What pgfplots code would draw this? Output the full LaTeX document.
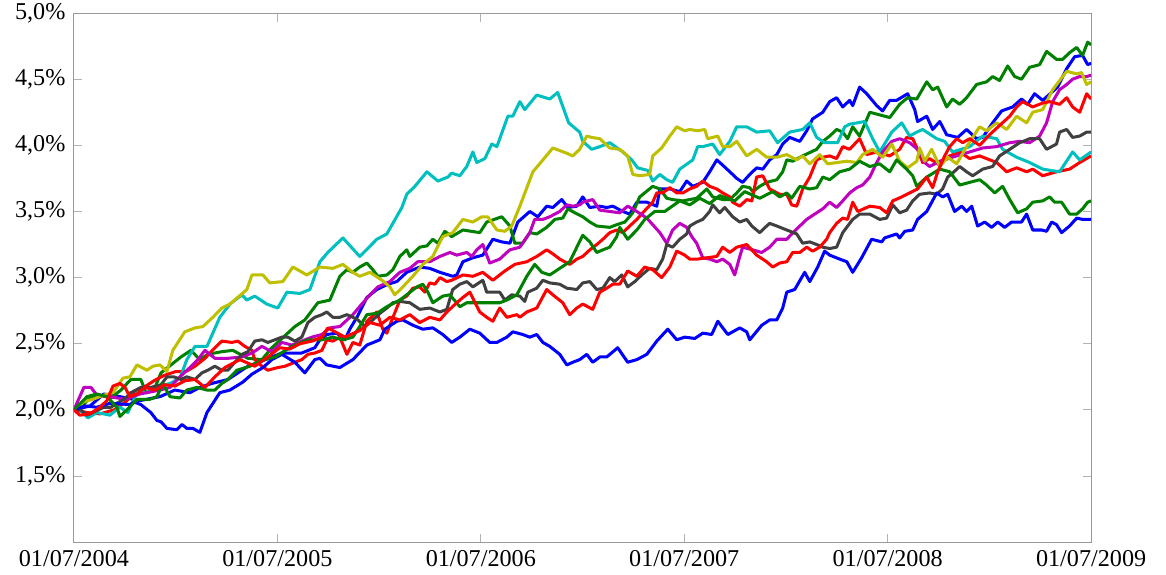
\documentclass[border=0pt]{standalone}
\usepackage{pgfplots}
\pgfplotsset{compat=1.18}
\usepackage{fontspec}
\setmainfont{Liberation Serif}
\definecolor{cB}{RGB}{0,0,255}
\definecolor{cG}{RGB}{0,128,0}
\definecolor{cR}{RGB}{255,0,0}
\definecolor{cC}{RGB}{0,191,191}
\definecolor{cM}{RGB}{191,0,191}
\definecolor{cY}{RGB}{191,191,0}
\definecolor{cK}{RGB}{64,64,64}

\begin{document}
\begin{tikzpicture}
\begin{axis}[
    name=ax,
    scale only axis,
    width=421pt, height=219pt,
    xmin=0, xmax=5, ymin=1.0, ymax=5.0,
    xtick={0,1,2,3,4,5},
    xticklabels={01/07/2004,01/07/2005,01/07/2006,01/07/2007,01/07/2008,01/07/2009},
    ytick={1.5,2,2.5,3,3.5,4,4.5,5},
    yticklabel={\pgfmathprintnumber[fixed,fixed zerofill,precision=1,use comma]{\tick}\%},
    /pgf/number format/assume math mode=true,
    axis line style={gray!80},
    tick style={gray!60, line width=0.4pt},
    tick align=inside, tick pos=both,
    major tick length=3.5pt,
    ticklabel style={font=\fontsize{10}{12}\selectfont},
    every axis plot/.append style={line width=1.25pt, no markers, line join=round},
]
% blue 1
\addplot[cB] coordinates {
(0,2.00) (0.079,2.03) (0.147,2.12) (0.226,2.10) (0.324,2.07) (0.423,2.10) (0.496,2.15) (0.570,2.13) (0.619,2.17) (0.678,2.20) (0.757,2.23) (0.855,2.33) (0.924,2.37) (1.022,2.43) (1.120,2.43) (1.184,2.47) (1.209,2.53) (1.243,2.57) (1.292,2.58) (1.332,2.53) (1.356,2.61) (1.391,2.70) (1.440,2.85) (1.489,2.91) (1.543,2.95) (1.587,2.97) (1.636,3.04) (1.700,3.08) (1.749,3.07) (1.799,3.04) (1.862,3.01) (1.882,3.02) (1.912,3.12) (1.961,3.15) (2.010,3.17) (2.059,3.29) (2.103,3.27) (2.143,3.26) (2.182,3.42) (2.241,3.50) (2.280,3.46) (2.324,3.54) (2.354,3.53) (2.398,3.59) (2.428,3.53) (2.472,3.54) (2.501,3.61) (2.536,3.53) (2.585,3.54) (2.619,3.53) (2.649,3.54) (2.698,3.50) (2.732,3.48) (2.767,3.57) (2.816,3.57) (2.865,3.54) (2.880,3.67) (2.929,3.67) (2.978,3.65) (3.012,3.73) (3.042,3.69) (3.091,3.72) (3.125,3.80) (3.160,3.89) (3.189,3.85) (3.224,3.80) (3.258,3.75) (3.287,3.72) (3.322,3.78) (3.356,3.83) (3.386,3.82) (3.420,3.89) (3.455,3.93) (3.484,4.01) (3.518,4.06) (3.568,4.03) (3.602,4.11) (3.631,4.20) (3.681,4.25) (3.715,4.33) (3.749,4.36) (3.779,4.29) (3.813,4.34) (3.828,4.30) (3.862,4.44) (3.897,4.39) (3.946,4.30) (3.975,4.26) (4.010,4.34) (4.044,4.34) (4.098,4.39) (4.133,4.27) (4.147,4.18) (4.192,4.22) (4.221,4.12) (4.256,4.18) (4.290,4.08) (4.344,4.06) (4.388,4.12) (4.437,4.05) (4.467,4.06) (4.516,4.17) (4.560,4.26) (4.614,4.29) (4.658,4.35) (4.688,4.31) (4.722,4.39) (4.762,4.34) (4.806,4.40) (4.835,4.44) (4.880,4.58) (4.919,4.67) (4.958,4.68) (4.983,4.61) (5.0,4.62)
};
% green 1
\addplot[cG] coordinates {
(0,2.00) (0.034,2.02) (0.084,2.10) (0.133,2.11) (0.182,2.09) (0.231,2.15) (0.280,2.23) (0.329,2.23) (0.354,2.13) (0.393,2.15) (0.428,2.28) (0.477,2.34) (0.526,2.40) (0.575,2.45) (0.619,2.38) (0.658,2.42) (0.727,2.44) (0.781,2.45) (0.855,2.39) (0.924,2.38) (0.973,2.47) (1.086,2.63) (1.135,2.68) (1.199,2.81) (1.258,2.83) (1.307,3.01) (1.342,3.06) (1.371,3.04) (1.405,3.08) (1.440,3.11) (1.469,3.06) (1.494,3.01) (1.538,3.02) (1.568,3.06) (1.602,3.16) (1.636,3.21) (1.651,3.16) (1.700,3.23) (1.735,3.24) (1.764,3.29) (1.789,3.26) (1.823,3.35) (1.857,3.31) (1.912,3.36) (1.995,3.34) (2.029,3.42) (2.103,3.46) (2.143,3.39) (2.167,3.26) (2.206,3.26) (2.241,3.34) (2.275,3.33) (2.324,3.38) (2.364,3.44) (2.403,3.45) (2.428,3.52) (2.462,3.49) (2.501,3.46) (2.536,3.42) (2.570,3.39) (2.634,3.38) (2.668,3.40) (2.708,3.42) (2.747,3.49) (2.781,3.61) (2.845,3.69) (2.880,3.67) (2.914,3.60) (2.943,3.59) (2.993,3.58) (3.061,3.60) (3.111,3.67) (3.140,3.61) (3.189,3.59) (3.224,3.59) (3.258,3.64) (3.287,3.69) (3.322,3.68) (3.337,3.65) (3.371,3.69) (3.405,3.72) (3.455,3.74) (3.484,3.80) (3.504,3.89) (3.533,3.88) (3.582,3.92) (3.651,3.97) (3.681,4.03) (3.715,4.07) (3.749,4.12) (3.779,4.10) (3.803,4.05) (3.828,4.14) (3.862,4.07) (3.912,4.25) (3.961,4.23) (4.010,4.21) (4.059,4.31) (4.098,4.36) (4.143,4.35) (4.192,4.48) (4.221,4.42) (4.246,4.44) (4.290,4.29) (4.319,4.35) (4.354,4.31) (4.388,4.36) (4.437,4.46) (4.486,4.48) (4.516,4.52) (4.550,4.49) (4.590,4.60) (4.624,4.52) (4.658,4.50) (4.698,4.59) (4.747,4.61) (4.781,4.71) (4.830,4.65) (4.860,4.65) (4.894,4.70) (4.929,4.74) (4.958,4.68) (4.983,4.78) (5.0,4.76)
};
% red 1
\addplot[cR] coordinates {
(0,2.00) (0.064,1.98) (0.128,1.97) (0.197,2.00) (0.246,2.05) (0.295,2.12) (0.344,2.17) (0.393,2.22) (0.442,2.26) (0.501,2.29) (0.550,2.29) (0.595,2.33) (0.644,2.39) (0.693,2.47) (0.727,2.52) (0.776,2.51) (0.806,2.52) (0.840,2.48) (0.875,2.45) (0.889,2.38) (0.924,2.33) (0.953,2.30) (1.002,2.32) (1.037,2.33) (1.086,2.36) (1.120,2.38) (1.150,2.42) (1.184,2.43) (1.219,2.45) (1.243,2.53) (1.273,2.52) (1.307,2.55) (1.342,2.42) (1.371,2.51) (1.405,2.49) (1.440,2.67) (1.489,2.74) (1.518,2.61) (1.538,2.58) (1.563,2.68) (1.602,2.83) (1.636,2.86) (1.666,2.92) (1.700,2.93) (1.725,2.89) (1.749,2.96) (1.774,2.95) (1.799,3.00) (1.833,2.97) (1.857,2.98) (1.912,3.02) (1.961,3.01) (2.010,3.04) (2.059,2.98) (2.118,3.05) (2.167,3.10) (2.226,3.12) (2.275,3.16) (2.324,3.21) (2.354,3.18) (2.388,3.14) (2.437,3.10) (2.472,3.14) (2.501,3.16) (2.536,3.21) (2.570,3.25) (2.600,3.29) (2.634,3.34) (2.668,3.36) (2.698,3.34) (2.732,3.39) (2.767,3.44) (2.796,3.49) (2.845,3.57) (2.865,3.64) (2.894,3.64) (2.929,3.68) (2.963,3.64) (2.993,3.64) (3.027,3.67) (3.061,3.69) (3.091,3.73) (3.125,3.69) (3.160,3.67) (3.189,3.64) (3.224,3.61) (3.238,3.57) (3.273,3.54) (3.307,3.59) (3.332,3.58) (3.356,3.76) (3.386,3.77) (3.420,3.67) (3.469,3.63) (3.504,3.63) (3.528,3.55) (3.553,3.54) (3.582,3.67) (3.617,3.76) (3.651,3.89) (3.681,3.91) (3.715,3.92) (3.749,3.90) (3.779,3.99) (3.813,3.97) (3.862,4.05) (3.897,3.93) (3.946,3.95) (4.010,3.92) (4.059,3.97) (4.093,4.06) (4.123,4.05) (4.147,3.97) (4.172,3.87) (4.206,3.90) (4.256,3.85) (4.305,3.92) (4.354,3.95) (4.403,3.90) (4.452,3.92) (4.536,3.87) (4.585,3.80) (4.634,3.83) (4.683,3.80) (4.713,3.82) (4.762,3.77) (4.830,3.80) (4.894,3.82) (4.944,3.87) (5.0,3.92)
};
% cyan
\addplot[cC] coordinates {
(0,2.00) (0.015,2.02) (0.069,1.94) (0.113,1.98) (0.177,1.96) (0.226,2.02) (0.265,1.98) (0.310,2.13) (0.359,2.13) (0.408,2.17) (0.472,2.20) (0.521,2.24) (0.555,2.38) (0.595,2.48) (0.654,2.48) (0.717,2.70) (0.767,2.80) (0.826,2.87) (0.850,2.83) (0.889,2.86) (0.948,2.80) (1.002,2.77) (1.047,2.89) (1.111,2.88) (1.160,2.91) (1.209,3.12) (1.248,3.19) (1.322,3.30) (1.405,3.16) (1.489,3.29) (1.538,3.33) (1.612,3.53) (1.636,3.63) (1.676,3.69) (1.735,3.80) (1.789,3.73) (1.838,3.76) (1.857,3.79) (1.897,3.77) (1.931,3.84) (1.961,3.95) (1.980,3.87) (2.020,3.90) (2.054,4.01) (2.079,3.99) (2.133,4.22) (2.157,4.22) (2.192,4.33) (2.216,4.27) (2.275,4.38) (2.339,4.35) (2.378,4.40) (2.432,4.17) (2.486,4.10) (2.501,4.03) (2.545,3.97) (2.585,3.99) (2.634,4.02) (2.698,3.95) (2.742,3.89) (2.771,3.83) (2.821,3.81) (2.845,3.73) (2.880,3.78) (2.914,3.74) (2.943,3.72) (2.978,3.82) (3.042,3.89) (3.066,3.99) (3.091,3.99) (3.140,4.01) (3.174,3.93) (3.224,4.03) (3.258,4.14) (3.307,4.14) (3.356,4.10) (3.420,4.11) (3.459,4.02) (3.518,4.10) (3.582,4.12) (3.617,4.17) (3.651,4.06) (3.690,4.02) (3.754,4.02) (3.789,4.14) (3.813,4.16) (3.887,4.18) (3.926,4.05) (3.961,3.95) (4.020,4.10) (4.069,4.17) (4.108,4.07) (4.143,4.10) (4.172,4.12) (4.241,4.05) (4.280,4.03) (4.319,3.95) (4.403,3.99) (4.467,4.07) (4.536,4.05) (4.565,3.97) (4.634,3.91) (4.698,3.87) (4.762,3.82) (4.845,3.80) (4.909,3.95) (4.944,3.89) (5.0,3.95)
};
% magenta
\addplot[cM] coordinates {
(0,2.00) (0.049,2.17) (0.084,2.17) (0.113,2.11) (0.177,2.10) (0.251,2.08) (0.324,2.12) (0.423,2.15) (0.472,2.17) (0.521,2.25) (0.570,2.32) (0.609,2.38) (0.644,2.45) (0.693,2.39) (0.757,2.39) (0.826,2.40) (0.875,2.43) (0.924,2.48) (0.973,2.44) (1.022,2.51) (1.071,2.49) (1.120,2.52) (1.170,2.55) (1.219,2.57) (1.258,2.62) (1.307,2.63) (1.371,2.72) (1.415,2.80) (1.455,2.87) (1.494,2.93) (1.553,2.97) (1.602,3.04) (1.651,3.07) (1.690,3.12) (1.749,3.12) (1.799,3.16) (1.848,3.19) (1.882,3.17) (1.931,3.19) (1.956,3.16) (1.980,3.21) (2.010,3.25) (2.029,3.17) (2.044,3.11) (2.093,3.14) (2.128,3.19) (2.143,3.21) (2.192,3.23) (2.241,3.34) (2.265,3.44) (2.305,3.44) (2.339,3.46) (2.388,3.50) (2.423,3.55) (2.452,3.54) (2.486,3.55) (2.501,3.57) (2.550,3.59) (2.585,3.51) (2.634,3.50) (2.683,3.49) (2.722,3.54) (2.767,3.50) (2.816,3.45) (2.880,3.34) (2.914,3.26) (2.943,3.36) (2.978,3.41) (3.012,3.38) (3.037,3.31) (3.061,3.26) (3.091,3.15) (3.125,3.14) (3.160,3.12) (3.189,3.14) (3.224,3.10) (3.248,3.02) (3.273,3.16) (3.287,3.23) (3.337,3.21) (3.381,3.19) (3.420,3.23) (3.455,3.29) (3.504,3.29) (3.528,3.33) (3.568,3.39) (3.602,3.44) (3.641,3.48) (3.681,3.52) (3.715,3.57) (3.749,3.53) (3.779,3.58) (3.813,3.64) (3.848,3.68) (3.877,3.70) (3.912,3.76) (3.946,3.87) (3.975,3.95) (4.020,4.03) (4.059,4.05) (4.108,4.02) (4.147,3.97) (4.182,3.87) (4.206,3.84) (4.256,3.88) (4.339,3.92) (4.403,3.95) (4.467,3.98) (4.536,3.99) (4.600,4.02) (4.649,4.03) (4.698,4.02) (4.747,4.07) (4.781,4.17) (4.811,4.33) (4.845,4.42) (4.880,4.46) (4.909,4.50) (4.944,4.52) (4.978,4.52) (5.0,4.53)
};
% olive
\addplot[cY] coordinates {
(0,2.00) (0.015,2.00) (0.044,2.06) (0.093,2.08) (0.143,2.11) (0.192,2.13) (0.241,2.24) (0.275,2.25) (0.310,2.34) (0.359,2.30) (0.388,2.33) (0.423,2.34) (0.457,2.29) (0.486,2.45) (0.545,2.59) (0.595,2.62) (0.634,2.63) (0.683,2.70) (0.727,2.77) (0.767,2.80) (0.850,2.91) (0.875,3.02) (0.929,3.02) (0.963,2.96) (1.027,2.97) (1.076,3.08) (1.145,3.02) (1.209,3.08) (1.273,3.07) (1.322,3.10) (1.371,3.04) (1.405,3.01) (1.455,3.04) (1.514,2.98) (1.553,2.93) (1.577,2.87) (1.617,2.93) (1.666,3.01) (1.715,3.10) (1.764,3.16) (1.813,3.31) (1.862,3.34) (1.912,3.44) (1.961,3.42) (2.005,3.46) (2.034,3.46) (2.079,3.36) (2.118,3.35) (2.152,3.39) (2.192,3.54) (2.256,3.80) (2.300,3.88) (2.354,3.98) (2.423,3.94) (2.452,3.92) (2.486,3.97) (2.521,4.07) (2.545,4.06) (2.585,4.05) (2.634,3.98) (2.683,3.97) (2.722,3.92) (2.747,3.78) (2.781,3.77) (2.830,3.78) (2.845,3.92) (2.889,3.98) (2.929,4.07) (2.963,4.14) (3.002,4.11) (3.027,4.12) (3.066,4.11) (3.101,4.12) (3.115,4.05) (3.165,4.07) (3.189,3.99) (3.224,3.99) (3.258,4.03) (3.307,3.92) (3.356,3.97) (3.405,3.91) (3.455,3.91) (3.504,3.93) (3.553,3.89) (3.582,3.92) (3.617,3.86) (3.666,3.93) (3.705,3.86) (3.799,3.88) (3.848,3.87) (3.877,3.93) (3.926,3.97) (3.975,3.91) (4.020,4.01) (4.059,3.88) (4.098,3.83) (4.143,3.88) (4.157,3.98) (4.182,3.88) (4.216,3.97) (4.256,3.84) (4.295,3.91) (4.339,3.86) (4.388,3.99) (4.452,4.14) (4.486,4.11) (4.536,4.17) (4.585,4.12) (4.634,4.22) (4.683,4.17) (4.713,4.25) (4.762,4.27) (4.811,4.42) (4.880,4.56) (4.929,4.54) (4.953,4.55) (4.978,4.46) (5.0,4.48)
};
% dark grey
\addplot[cK] coordinates {
(0,2.00) (0.034,2.00) (0.064,1.96) (0.147,2.02) (0.182,2.02) (0.211,2.05) (0.246,2.08) (0.280,2.13) (0.329,2.17) (0.378,2.17) (0.428,2.19) (0.457,2.25) (0.491,2.25) (0.526,2.23) (0.555,2.25) (0.595,2.23) (0.629,2.28) (0.658,2.30) (0.693,2.33) (0.727,2.30) (0.757,2.30) (0.791,2.36) (0.826,2.42) (0.855,2.44) (0.889,2.52) (0.924,2.53) (0.953,2.51) (0.988,2.53) (1.022,2.55) (1.052,2.55) (1.086,2.52) (1.120,2.55) (1.150,2.66) (1.184,2.70) (1.219,2.72) (1.243,2.74) (1.273,2.70) (1.307,2.70) (1.342,2.72) (1.371,2.70) (1.396,2.68) (1.430,2.63) (1.469,2.68) (1.504,2.73) (1.538,2.77) (1.568,2.81) (1.602,2.82) (1.651,2.81) (1.700,2.76) (1.749,2.77) (1.799,2.74) (1.833,2.76) (1.862,2.91) (1.897,2.95) (1.931,2.97) (1.961,2.93) (2.010,2.98) (2.029,2.89) (2.093,2.89) (2.118,2.83) (2.152,2.87) (2.192,2.86) (2.216,2.82) (2.231,2.89) (2.275,2.92) (2.305,2.98) (2.339,2.96) (2.388,2.95) (2.423,2.92) (2.472,2.91) (2.501,2.96) (2.536,2.97) (2.570,2.91) (2.600,2.92) (2.634,3.00) (2.658,2.97) (2.693,3.02) (2.722,2.93) (2.757,2.97) (2.791,3.02) (2.830,3.07) (2.865,3.06) (2.894,3.14) (2.914,3.25) (2.943,3.23) (2.978,3.29) (3.012,3.33) (3.027,3.39) (3.061,3.42) (3.091,3.44) (3.125,3.50) (3.140,3.55) (3.174,3.49) (3.199,3.53) (3.238,3.46) (3.273,3.42) (3.307,3.44) (3.332,3.39) (3.371,3.34) (3.405,3.39) (3.420,3.41) (3.455,3.39) (3.504,3.36) (3.553,3.33) (3.582,3.26) (3.617,3.27) (3.651,3.25) (3.681,3.23) (3.715,3.22) (3.749,3.23) (3.779,3.34) (3.828,3.44) (3.862,3.48) (3.912,3.48) (3.961,3.44) (3.995,3.45) (4.025,3.55) (4.059,3.49) (4.093,3.51) (4.123,3.58) (4.157,3.63) (4.206,3.64) (4.241,3.63) (4.270,3.67) (4.295,3.76) (4.319,3.79) (4.354,3.84) (4.388,3.80) (4.418,3.77) (4.467,3.82) (4.516,3.84) (4.550,3.92) (4.600,3.97) (4.649,4.02) (4.698,4.05) (4.747,4.05) (4.781,3.97) (4.830,4.01) (4.845,4.10) (4.880,4.12) (4.909,4.06) (4.944,4.07) (4.978,4.10) (5.0,4.10)
};
% blue 2
\addplot[cB] coordinates {
(0,2.00) (0.054,2.03) (0.113,2.02) (0.177,2.05) (0.275,2.04) (0.295,2.06) (0.329,2.04) (0.378,1.98) (0.408,1.92) (0.428,1.91) (0.457,1.86) (0.506,1.85) (0.531,1.89) (0.555,1.86) (0.585,1.86) (0.619,1.83) (0.654,1.98) (0.717,2.13) (0.767,2.15) (0.830,2.21) (0.875,2.27) (0.929,2.32) (0.973,2.38) (1.022,2.42) (1.086,2.36) (1.135,2.28) (1.184,2.38) (1.209,2.39) (1.243,2.34) (1.307,2.32) (1.371,2.38) (1.440,2.49) (1.504,2.53) (1.528,2.61) (1.587,2.67) (1.617,2.68) (1.666,2.64) (1.715,2.61) (1.764,2.62) (1.813,2.57) (1.857,2.51) (1.897,2.55) (1.946,2.61) (1.995,2.58) (2.044,2.51) (2.079,2.51) (2.128,2.55) (2.157,2.59) (2.206,2.57) (2.241,2.55) (2.275,2.57) (2.305,2.51) (2.339,2.48) (2.388,2.42) (2.423,2.34) (2.452,2.36) (2.486,2.38) (2.521,2.42) (2.550,2.36) (2.585,2.40) (2.619,2.40) (2.673,2.47) (2.722,2.36) (2.767,2.38) (2.816,2.42) (2.865,2.52) (2.919,2.61) (2.963,2.53) (3.002,2.55) (3.052,2.54) (3.091,2.58) (3.135,2.57) (3.165,2.67) (3.214,2.57) (3.273,2.62) (3.307,2.59) (3.322,2.53) (3.381,2.64) (3.420,2.68) (3.455,2.68) (3.484,2.77) (3.504,2.89) (3.543,2.91) (3.592,3.04) (3.617,2.97) (3.656,3.08) (3.690,3.20) (3.715,3.17) (3.764,3.14) (3.799,3.12) (3.828,3.04) (3.872,3.15) (3.921,3.29) (3.971,3.27) (3.985,3.30) (4.044,3.33) (4.059,3.30) (4.084,3.35) (4.123,3.36) (4.147,3.44) (4.192,3.50) (4.241,3.64) (4.270,3.61) (4.295,3.63) (4.329,3.50) (4.364,3.54) (4.388,3.50) (4.413,3.54) (4.442,3.39) (4.477,3.42) (4.511,3.38) (4.541,3.42) (4.575,3.38) (4.609,3.42) (4.658,3.42) (4.683,3.48) (4.713,3.36) (4.757,3.36) (4.781,3.35) (4.806,3.42) (4.830,3.40) (4.855,3.34) (4.894,3.39) (4.929,3.45) (4.958,3.44) (5.0,3.44)
};
% green 2
\addplot[cG] coordinates {
(0,2.00) (0.064,2.10) (0.113,2.12) (0.162,2.10) (0.211,2.02) (0.226,1.95) (0.260,2.00) (0.310,2.08) (0.373,2.08) (0.408,2.10) (0.437,2.20) (0.472,2.10) (0.521,2.09) (0.555,2.15) (0.604,2.17) (0.654,2.15) (0.693,2.15) (0.727,2.20) (0.757,2.23) (0.801,2.30) (0.865,2.33) (0.914,2.37) (0.988,2.40) (1.071,2.48) (1.150,2.53) (1.219,2.53) (1.273,2.55) (1.322,2.53) (1.371,2.55) (1.405,2.63) (1.440,2.72) (1.489,2.73) (1.538,2.78) (1.602,2.83) (1.686,2.93) (1.715,2.95) (1.740,2.89) (1.764,2.81) (1.813,2.86) (1.848,2.87) (1.897,2.78) (1.931,2.81) (2.010,2.81) (2.093,2.81) (2.128,2.83) (2.177,2.87) (2.226,3.01) (2.265,3.10) (2.300,3.04) (2.339,3.02) (2.388,3.07) (2.437,3.12) (2.472,3.23) (2.501,3.32) (2.536,3.27) (2.570,3.19) (2.600,3.21) (2.634,3.23) (2.668,3.31) (2.683,3.38) (2.722,3.29) (2.767,3.36) (2.806,3.44) (2.855,3.50) (2.904,3.50) (2.978,3.58) (3.027,3.55) (3.076,3.60) (3.125,3.56) (3.174,3.62) (3.248,3.58) (3.297,3.65) (3.371,3.60) (3.435,3.65) (3.469,3.61) (3.504,3.64) (3.528,3.60) (3.568,3.69) (3.617,3.67) (3.651,3.68) (3.681,3.76) (3.715,3.74) (3.764,3.80) (3.813,3.82) (3.862,3.88) (3.912,3.84) (3.961,3.86) (4.010,3.80) (4.044,3.89) (4.093,3.82) (4.123,3.77) (4.143,3.69) (4.192,3.76) (4.256,3.82) (4.305,3.80) (4.354,3.70) (4.403,3.72) (4.452,3.74) (4.486,3.70) (4.526,3.64) (4.565,3.69) (4.600,3.59) (4.639,3.49) (4.683,3.52) (4.713,3.57) (4.762,3.58) (4.796,3.61) (4.821,3.57) (4.855,3.57) (4.894,3.48) (4.929,3.48) (4.958,3.52) (4.983,3.57) (5.0,3.58)
};
% red 2
\addplot[cR] coordinates {
(0,2.00) (0.029,1.96) (0.079,1.97) (0.128,2.02) (0.162,2.07) (0.192,2.18) (0.226,2.20) (0.251,2.17) (0.275,2.10) (0.310,2.12) (0.349,2.17) (0.398,2.15) (0.447,2.19) (0.496,2.18) (0.545,2.22) (0.595,2.23) (0.644,2.17) (0.693,2.25) (0.742,2.32) (0.816,2.38) (0.889,2.33) (0.953,2.40) (1.012,2.47) (1.061,2.46) (1.111,2.50) (1.170,2.52) (1.219,2.55) (1.248,2.62) (1.332,2.55) (1.405,2.60) (1.455,2.66) (1.504,2.64) (1.553,2.70) (1.602,2.68) (1.651,2.72) (1.700,2.66) (1.749,2.70) (1.799,2.68) (1.833,2.74) (1.882,2.81) (1.912,2.85) (1.946,2.89) (1.995,2.74) (2.029,2.70) (2.059,2.67) (2.093,2.77) (2.128,2.70) (2.177,2.72) (2.192,2.70) (2.226,2.74) (2.275,2.77) (2.324,2.91) (2.354,2.87) (2.403,2.81) (2.437,2.72) (2.472,2.77) (2.501,2.80) (2.550,2.76) (2.585,2.89) (2.619,2.92) (2.649,2.95) (2.683,2.95) (2.722,3.05) (2.767,3.01) (2.806,3.08) (2.845,3.06) (2.889,3.00) (2.929,3.08) (2.963,3.20) (3.002,3.17) (3.027,3.14) (3.066,3.14) (3.111,3.15) (3.160,3.16) (3.189,3.23) (3.224,3.19) (3.258,3.23) (3.307,3.25) (3.356,3.17) (3.405,3.12) (3.435,3.08) (3.469,3.11) (3.504,3.12) (3.533,3.19) (3.568,3.19) (3.602,3.23) (3.631,3.20) (3.666,3.23) (3.700,3.29) (3.715,3.34) (3.749,3.41) (3.779,3.45) (3.803,3.44) (3.828,3.57) (3.853,3.50) (3.912,3.54) (3.961,3.53) (3.995,3.49) (4.025,3.58) (4.069,3.61) (4.108,3.64) (4.147,3.67) (4.192,3.76) (4.221,3.68) (4.246,3.80) (4.280,3.92) (4.305,3.99) (4.339,4.05) (4.369,4.02) (4.403,4.05) (4.452,4.00) (4.501,4.08) (4.550,4.15) (4.600,4.22) (4.634,4.29) (4.663,4.33) (4.713,4.29) (4.762,4.32) (4.796,4.33) (4.845,4.31) (4.880,4.36) (4.909,4.29) (4.944,4.25) (4.978,4.39) (5.0,4.35)
};
\end{axis}
\pgfresetboundingbox
\path[use as bounding box] ([shift={(-30.6pt,-13.2pt)}]ax.south west) rectangle ([shift={(31pt,5.4pt)}]ax.north east);
\end{tikzpicture}
\end{document}
